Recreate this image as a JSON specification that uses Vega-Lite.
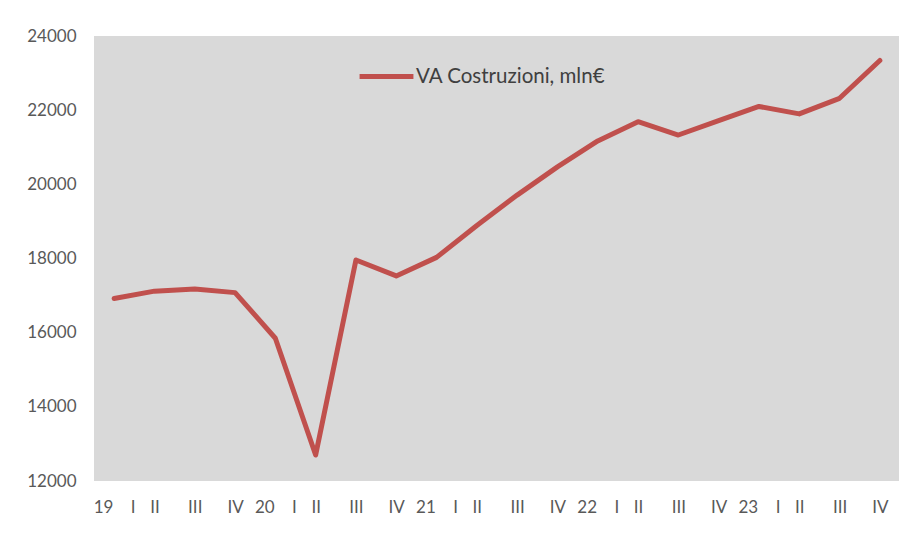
{
  "$schema": "https://vega.github.io/schema/vega-lite/v6.json",
  "autosize": {"type": "none"},
  "padding": {"left": 94, "top": 36, "right": 0, "bottom": 70},
  "width": 806,
  "height": 445,
  "background": "#ffffff",
  "config": {
    "view": {"fill": "#d9d9d9", "stroke": null},
    "font": "Lato"
  },
  "data": {
    "values": [
      {"t": "19|I", "serie": "VA Costruzioni, mln€", "v": 16920},
      {"t": "19|II", "serie": "VA Costruzioni, mln€", "v": 17120},
      {"t": "19|III", "serie": "VA Costruzioni, mln€", "v": 17180},
      {"t": "19|IV", "serie": "VA Costruzioni, mln€", "v": 17080},
      {"t": "20|I", "serie": "VA Costruzioni, mln€", "v": 15850},
      {"t": "20|II", "serie": "VA Costruzioni, mln€", "v": 12700},
      {"t": "20|III", "serie": "VA Costruzioni, mln€", "v": 17960},
      {"t": "20|IV", "serie": "VA Costruzioni, mln€", "v": 17530},
      {"t": "21|I", "serie": "VA Costruzioni, mln€", "v": 18030},
      {"t": "21|II", "serie": "VA Costruzioni, mln€", "v": 18890},
      {"t": "21|III", "serie": "VA Costruzioni, mln€", "v": 19710},
      {"t": "21|IV", "serie": "VA Costruzioni, mln€", "v": 20470},
      {"t": "22|I", "serie": "VA Costruzioni, mln€", "v": 21170},
      {"t": "22|II", "serie": "VA Costruzioni, mln€", "v": 21690},
      {"t": "22|III", "serie": "VA Costruzioni, mln€", "v": 21330},
      {"t": "22|IV", "serie": "VA Costruzioni, mln€", "v": 21720},
      {"t": "23|I", "serie": "VA Costruzioni, mln€", "v": 22100},
      {"t": "23|II", "serie": "VA Costruzioni, mln€", "v": 21900},
      {"t": "23|III", "serie": "VA Costruzioni, mln€", "v": 22320},
      {"t": "23|IV", "serie": "VA Costruzioni, mln€", "v": 23340}
    ]
  },
  "mark": {"type": "line", "strokeWidth": 5, "strokeCap": "round", "strokeJoin": "round"},
  "encoding": {
    "x": {
      "field": "t",
      "type": "ordinal",
      "sort": null,
      "scale": {"paddingInner": 0, "paddingOuter": 0.5},
      "axis": {
        "title": null,
        "domain": false,
        "ticks": false,
        "grid": false,
        "labelAngle": 0,
        "labelFont": "Lato",
        "labelFontSize": 17,
        "labelColor": "#595959",
        "labelPadding": 18,
        "labelOverlap": false,
        "labelExpr": "split(datum.value,'|')[1] == 'I' ? split(datum.value,'|')[0] + '\u00a0\u00a0\u00a0\u00a0I' : split(datum.value,'|')[1]"
      }
    },
    "y": {
      "field": "v",
      "type": "quantitative",
      "scale": {"domain": [12000, 24000], "nice": false, "zero": false},
      "axis": {
        "title": null,
        "domain": false,
        "ticks": false,
        "grid": false,
        "values": [12000, 14000, 16000, 18000, 20000, 22000, 24000],
        "format": "d",
        "labelFont": "Lato",
        "labelFontSize": 17,
        "labelColor": "#595959",
        "labelPadding": 18
      }
    },
    "color": {
      "field": "serie",
      "type": "nominal",
      "scale": {"domain": ["VA Costruzioni, mln€"], "range": ["#c0504d"]},
      "legend": {
        "title": null,
        "orient": "none",
        "legendX": 263,
        "legendY": 11,
        "symbolType": "stroke",
        "symbolStrokeWidth": 5,
        "symbolSize": 2900,
        "labelFont": "Lato",
        "labelFontSize": 20.5,
        "labelColor": "#404040",
        "labelOffset": 0,
        "labelLimit": 500,
        "padding": 0
      }
    }
  }
}
